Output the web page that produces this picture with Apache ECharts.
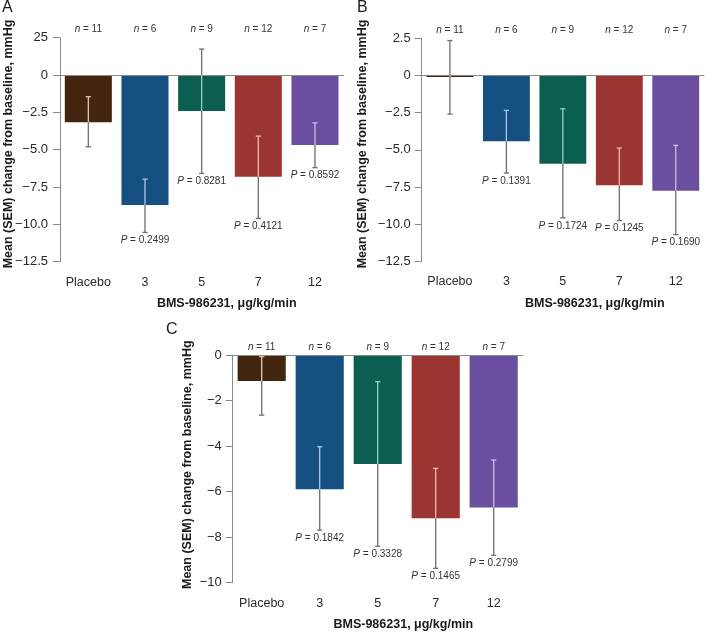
<!DOCTYPE html>
<html><head><meta charset="utf-8">
<script src="https://cdn.jsdelivr.net/npm/echarts@6/dist/echarts.min.js"></script>
<style>html,body{margin:0;padding:0;background:#fff}#c{width:709px;height:632px}</style>
</head><body><div id="c"></div>
<script>
// ---- data ----
const categories = ['Placebo', '3', '5', '7', '12'];
const nValues = [11, 6, 9, 12, 7];
const barColors = ['#42260f', '#164f82', '#0c5e50', '#9b3531', '#6a4e9f'];
const errInnerColors = ['#e6c8b2', '#a9c9ea', '#93d2c2', '#f2b5ad', '#cbbaee'];

const meanA = [-3.17, -8.71, -2.41, -6.81, -4.69];
const errHighA = [-1.45, -6.97, 1.74, -4.09, -3.2];
const errLowA = [-4.8, -10.54, -6.59, -9.6, -6.2];
const pA = [null, '0.2499', '0.8281', '0.4121', '0.8592'];
const tickLabelsA = ['\u221212.5', '\u221210.0', '\u22127.5', '\u22125.0', '\u22122.5', '0', '25'];

const meanB = [-0.1, -4.43, -5.93, -7.39, -7.75];
const errHighB = [2.35, -2.35, -2.24, -4.88, -4.7];
const errLowB = [-2.6, -6.56, -9.58, -9.76, -10.7];
const pB = [null, '0.1391', '0.1724', '0.1245', '0.1690'];
const tickLabelsB = ['\u221212.5', '\u221210.0', '\u22127.5', '\u22125.0', '\u22122.5', '0', '2.5'];

const meanC = [-1.14, -5.9, -4.79, -7.17, -6.7];
const errHighC = [-0.07, -4.03, -1.17, -4.98, -4.61];
const errLowC = [-2.64, -7.69, -8.4, -9.37, -8.8];
const pC = [null, '0.1842', '0.3328', '0.1465', '0.2799'];
const tickLabelsC = ['\u221210', '\u22128', '\u22126', '\u22124', '\u22122', '0'];

const xTitle = 'BMS-986231, \u03bcg/kg/min';
const yTitle = 'Mean (SEM) change from baseline, mmHg';

// ---- chart ----
const FONT = '"Liberation Sans", Arial, sans-serif';
const AXIS = '#8a8a8a';
const TXT = '#2a2a2a';
const ERR = '#6e6e6e';

const panels = [
  { mean: meanA, hi: errHighA, lo: errLowA, p: pA, ticks: tickLabelsA, min: -12.5, max: 2.5, interval: 2.5,
    grid: { left: 60, top: 37.7, width: 283.3, height: 224 }, labelMargin: 12 },
  { mean: meanB, hi: errHighB, lo: errLowB, p: pB, ticks: tickLabelsB, min: -12.5, max: 2.5, interval: 2.5,
    grid: { left: 421.7, top: 38.3, width: 282.3, height: 223 }, labelMargin: 11 },
  { mean: meanC, hi: errHighC, lo: errLowC, p: pC, ticks: tickLabelsC, min: -10, max: 0, interval: 2,
    grid: { left: 232.7, top: 355, width: 290, height: 227.7 }, labelMargin: 11 }
];

const grids = [], xAxes = [], yAxes = [], series = [];
panels.forEach((pn, k) => {
  grids.push(pn.grid);
  xAxes.push({
    type: 'category', gridIndex: k, data: categories, position: 'bottom',
    axisLine: { lineStyle: { color: AXIS, width: 1 } },
    axisTick: { alignWithLabel: true, length: 8, interval: 0, lineStyle: { color: AXIS } },
    axisLabel: { fontSize: 12.5, color: TXT, fontFamily: FONT, margin: 14, interval: 0 },
    splitLine: { show: false }
  });
  xAxes.push({
    type: 'category', gridIndex: k, data: categories, position: 'top',
    axisLine: { show: false }, axisTick: { show: false },
    axisLabel: {
      margin: 3, fontSize: 10, color: '#333', fontFamily: FONT, interval: 0,
      formatter: (v, i) => '{i|n} = ' + nValues[i],
      rich: { i: { fontStyle: 'italic', fontSize: 10, fontFamily: FONT, color: '#333' } }
    }
  });
  yAxes.push({
    type: 'value', gridIndex: k, min: pn.min, max: pn.max, interval: pn.interval,
    axisLine: { show: true, lineStyle: { color: AXIS, width: 1 } },
    axisTick: { show: true, length: 7, lineStyle: { color: AXIS } },
    axisLabel: {
      fontSize: 13, color: TXT, fontFamily: FONT, margin: pn.labelMargin,
      formatter: (v) => pn.ticks[Math.round((v - pn.min) / pn.interval)]
    },
    splitLine: { show: false }
  });
  series.push({
    type: 'bar', xAxisIndex: 2 * k, yAxisIndex: k, barWidth: '83%',
    data: pn.mean.map((v, i) => ({ value: v, itemStyle: { color: barColors[i] } })),
    silent: true,
    markLine: {
      silent: true, symbol: 'none', label: { show: false },
      lineStyle: { color: AXIS, type: 'solid', width: 1 },
      data: [{ yAxis: 0 }]
    }
  });
  series.push({
    type: 'custom', xAxisIndex: 2 * k, yAxisIndex: k, silent: true, clip: false, z: 5,
    data: pn.mean.map((v, i) => [i, v, pn.hi[i], pn.lo[i]]),
    encode: { x: 0, y: [1, 2, 3] },
    renderItem: function (params, api) {
      const i = api.value(0), m = api.value(1), hi = api.value(2), lo = api.value(3);
      const x = api.coord([i, 0])[0];
      const Y = (v) => api.coord([i, v])[1];
      const inner = errInnerColors[i];
      const children = [];
      const seg = (a, b, c) => {
        if (b <= a) return;
        children.push({ type: 'line', shape: { x1: x, y1: Y(a), x2: x, y2: Y(b) },
          style: { stroke: c, lineWidth: 1.3 } });
      };
      const barLo = Math.min(m, 0), barHi = Math.max(m, 0);
      seg(Math.max(lo, barLo), Math.min(hi, barHi), inner);
      seg(lo, Math.min(hi, barLo), ERR);
      seg(Math.max(lo, barHi), hi, ERR);
      const cap = (v) => {
        const c = (v >= barLo && v <= barHi) ? inner : ERR;
        children.push({ type: 'line', shape: { x1: x - 2.6, y1: Y(v), x2: x + 2.6, y2: Y(v) },
          style: { stroke: c, lineWidth: 1.3 } });
      };
      cap(hi); cap(lo);
      const p = pn.p[i];
      if (p) {
        children.push({
          type: 'text', x: x, y: Y(lo) + 8,
          style: {
            text: '{i|P} = ' + p, fill: '#333', font: '10px ' + FONT,
            align: 'center', verticalAlign: 'middle',
            rich: { i: { fontStyle: 'italic', fontSize: 10, fontFamily: FONT, fill: '#333' } }
          }
        });
      }
      return { type: 'group', children: children };
    }
  });
});

function tText(x, y, text, opts) {
  return {
    type: 'text', x: x, y: y,
    style: Object.assign({ text: text, fill: '#1a1a1a', font: 'bold 12.5px ' + FONT,
      align: 'center', verticalAlign: 'middle' }, opts || {})
  };
}
const graphic = [
  tText(2, 7.5, 'A', { font: '16px ' + FONT, align: 'left' }),
  tText(357, 8, 'B', { font: '16px ' + FONT, align: 'left' }),
  tText(166, 330, 'C', { font: '16px ' + FONT, align: 'left' }),
  tText(226.7, 303.3, xTitle),
  tText(594.8, 303.3, xTitle),
  tText(403.3, 625, xTitle),
  Object.assign(tText(8.5, 144, yTitle), { rotation: Math.PI / 2 }),
  Object.assign(tText(362.3, 144, yTitle), { rotation: Math.PI / 2 }),
  Object.assign(tText(187.3, 464.7, yTitle), { rotation: Math.PI / 2 })
];

const chart = echarts.init(document.getElementById('c'), null, { renderer: 'canvas' });
chart.setOption({
  animation: false,
  backgroundColor: '#ffffff',
  textStyle: { fontFamily: FONT },
  grid: grids, xAxis: xAxes, yAxis: yAxes, series: series, graphic: graphic
});
</script>
</body></html>
